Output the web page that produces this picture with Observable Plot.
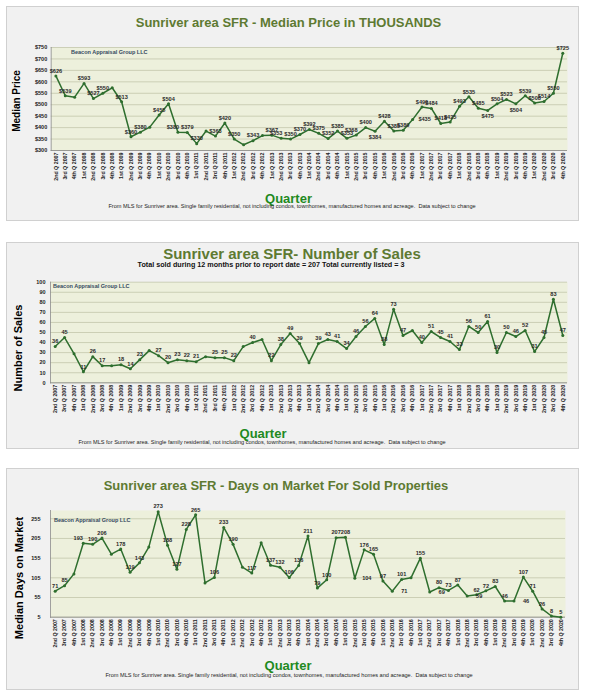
<!DOCTYPE html>
<html><head><meta charset="utf-8">
<script src="https://cdn.jsdelivr.net/npm/d3@7"></script>
<script src="https://cdn.jsdelivr.net/npm/@observablehq/plot@0.6"></script>
<style>
body{margin:0;background:#fff;font-family:"Liberation Sans",Arial,sans-serif;}
#root{position:relative;width:589px;height:700px;}
.panel{position:absolute;left:6px;width:573px;background:#f1f1f1;outline:1px solid #d0d0d0;outline-offset:-1px;}
.panel svg{position:absolute;left:0;top:0;}
.t{position:absolute;transform:translate(-50%,-50%);white-space:nowrap;line-height:1;}
.title{font-weight:bold;color:#5e7a32;}
.sub{font-weight:bold;color:#111;font-size:7.2px;}
.ylab{font-weight:bold;color:#000;transform:translate(-50%,-50%) rotate(-90deg);}
.quarter{font-weight:bold;color:#1f8a1f;font-size:13px;}
.foot{font-size:5.6px;color:#222;}
.beacon{position:absolute;font-weight:bold;font-size:5.5px;color:#34495e;white-space:nowrap;line-height:1;}
</style>
</head><body><div id="root"></div>
<script>
// ---------- data ----------
const quarters = [
 "2nd Q 2007","3rd Q 2007","4th Q 2007",
 "1st Q 2008","2nd Q 2008","3rd Q 2008","4th Q 2008",
 "1st Q 2009","2nd Q 2009","3rd Q 2009","4th Q 2009",
 "1st Q 2010","2nd Q 2010","3rd Q 2010","4th Q 2010",
 "1st Q 2011","2nd Q 2011","3rd Q 2011","4th Q 2011",
 "1st Q 2012","2nd Q 2012","3rd Q 2012","4th Q 2012",
 "1st Q 2013","2nd Q 2013","3rd Q 2013","4th Q 2013",
 "1st Q 2014","2nd Q 2014","3rd Q 2014","4th Q 2014",
 "1st Q 2015","2nd Q 2015","3rd Q 2015","4th Q 2015",
 "1st Q 2016","2nd Q 2016","3rd Q 2016","4th Q 2016",
 "1st Q 2017","2nd Q 2017","3rd Q 2017","4th Q 2017",
 "1st Q 2018","2nd Q 2018","3rd Q 2018","4th Q 2018",
 "1st Q 2019","2nd Q 2019","3rd Q 2019","4th Q 2019",
 "1st Q 2020","2nd Q 2020","3rd Q 2020","4th Q 2020"
];
const medianPrice = [626,539,533, 593,527,550,574, 513,360,380,402, 455,504,380,379, 330,385,363,420,
 350,325,343,365, 367,353,350,370, 392,375,352,385, 353,368,400,384, 428,385,389,435,
 490,484,418,425, 493,535,485,475, 504,523,504,539, 508,514,550,725];
const numberOfSales = [36,45,29, 11,26,17,17, 18,14,23,32, 27,20,23,22, 21,26,25,25,
 22,36,40,43, 22,38,49,39, 20,39,43,41, 34,46,56,64, 38,73,47,52,
 40,51,45,41, 33,56,50,61, 30,50,46,52, 31,45,83,47];
const daysOnMarket = [71,85,115, 193,190,206,165, 178,119,143,183, 273,188,127,228, 265,92,106,233,
 190,132,117,194, 137,132,106,136, 211,79,100,207, 208,104,176,165, 97,71,101,105,
 155,69,80,73, 87,59,62,72, 83,46,46,107, 71,26,8,5];
const priceTicks = [300,350,400,450,500,550,600,650,700,750];
const salesTicks = [0,10,20,30,40,50,60,70,80,90,100];
const domTicks = [5,55,105,155,205,255];
// quarters without a value label in the reference
const priceUnlabeled = ["4th Q 2007","4th Q 2008","4th Q 2009","2nd Q 2011","2nd Q 2012","4th Q 2012"];
const salesUnlabeled = ["4th Q 2007","4th Q 2008","4th Q 2009","2nd Q 2011","2nd Q 2012","4th Q 2012","1st Q 2014","4th Q 2016"];
const domUnlabeled = ["4th Q 2007","4th Q 2008","4th Q 2009","2nd Q 2011","2nd Q 2012","4th Q 2012","4th Q 2016"];
// label placement groups (default: above the point)
const priceBelow = ["4th Q 2015","4th Q 2018","3rd Q 2019"];
const priceRight = ["4th Q 2016"];
const priceLeft = ["3rd Q 2010","2nd Q 2013","2nd Q 2015"];
const salesBelow = [];
const salesRight = [];
const salesLeft = [];
const domBelow = [];
const domRight = ["2nd Q 2015","2nd Q 2016","2nd Q 2017","2nd Q 2018","3rd Q 2019"];
const domLeft = ["1st Q 2008"];

const footText = "From MLS for Sunriver area. Single family residential, not including condos, townhomes, manufactured homes and acreage.\u00a0\u00a0Data subject to change";

const root = document.getElementById("root");
const FONT = "Liberation Sans, Arial, sans-serif";
const GREEN = "#2e6e2e";

function addText(panel, cls, text, x, y, extra) {
  const d = document.createElement("div");
  d.className = "t " + cls;
  d.textContent = text;
  d.style.left = x + "px"; d.style.top = y + "px";
  if (extra) Object.assign(d.style, extra);
  panel.appendChild(d);
}

function makePanel(cfg) {
  const panel = document.createElement("div");
  panel.className = "panel";
  panel.style.top = cfg.top + "px";
  panel.style.height = cfg.height + "px";
  root.appendChild(panel);
  const data = quarters.map((q, i) => ({q, v: cfg.values[i]}));
  const lab = data.filter(d => !cfg.unlabeled.includes(d.q));
  const special = [...cfg.below, ...cfg.right, ...cfg.left];
  const above = lab.filter(d => !special.includes(d.q));
  const below = lab.filter(d => cfg.below.includes(d.q));
  const right = lab.filter(d => cfg.right.includes(d.q));
  const left = lab.filter(d => cfg.left.includes(d.q));
  const tf = cfg.fmt;
  const txt = {x: "q", y: "v", text: d => tf(d.v), fontSize: 5.6, fontWeight: "bold", fill: "#2a2a2a"};
  const svg = Plot.plot({
    width: 573, height: cfg.height,
    marginLeft: cfg.ml, marginRight: cfg.mr, marginTop: cfg.mt, marginBottom: cfg.mb,
    style: {background: "transparent", fontFamily: FONT, overflow: "visible"},
    x: {type: "point", domain: quarters, padding: 0.5, round: false},
    y: {domain: cfg.domain},
    marks: [
      Plot.frame({fill: "#edf0dc", stroke: "none"}),
      Plot.gridY(cfg.ticks, {stroke: "#c3c6ab", strokeOpacity: 1, strokeWidth: 0.8}),
      Plot.ruleY([cfg.domain[0]], {stroke: "#8c8c8c", strokeWidth: 0.8}),
      Plot.frame({anchor: "left", stroke: "#8c8c8c", strokeWidth: 0.8}),
      Plot.axisY(cfg.ticks, {tickSize: 0, tickPadding: cfg.yPad, tickFormat: tf, fontSize: 5.5, fontWeight: "bold", fill: "#222", label: null}),
      Plot.axisX(quarters, {tickSize: 0, tickRotate: -90, tickPadding: 2, fontSize: 5.3, fontWeight: "bold", fill: "#222", label: null}),
      Plot.line(data, {x: "q", y: "v", stroke: GREEN, strokeWidth: 1.5}),
      Plot.dot(data, {x: "q", y: "v", r: 1.5, fill: GREEN}),
      Plot.text(above, {...txt, dy: -5}),
      Plot.text(below, {...txt, dy: 6}),
      Plot.text(right, {...txt, dx: 12, dy: 0}),
      Plot.text(left, {...txt, dx: -5, dy: -5})
    ]
  });
  panel.appendChild(svg);
  cfg.titles.forEach(t => addText(panel, t.cls, t.text, t.x, t.y, t.style));
  addText(panel, "ylab", cfg.ylabel, cfg.ylab[0], cfg.ylab[1], {fontSize: cfg.ylabSize + "px"});
  addText(panel, "quarter", "Quarter", cfg.quarter[0], cfg.quarter[1]);
  addText(panel, "foot", footText, cfg.foot[0], cfg.foot[1]);
  const b = document.createElement("div");
  b.className = "beacon"; b.textContent = "Beacon Appraisal Group LLC";
  b.style.left = cfg.beacon[0] + "px"; b.style.top = cfg.beacon[1] + "px";
  panel.appendChild(b);
}

makePanel({
  top: 6, height: 215, values: medianPrice, ticks: priceTicks, domain: [300, 750],
  fmt: d => "$" + d, unlabeled: priceUnlabeled, below: priceBelow, right: priceRight, left: priceLeft,
  ml: 44.7, mr: 12, mt: 41, mb: 71, yPad: 4,
  titles: [{cls: "title", text: "Sunriver area SFR - Median Price in THOUSANDS", x: 282.5, y: 15.5, style: {fontSize: "13px"}}],
  ylabel: "Median Price", ylab: [11, 95], ylabSize: 10,
  quarter: [282.5, 192], foot: [286, 201], beacon: [65, 43.5]
});
makePanel({
  top: 242, height: 207, values: numberOfSales, ticks: salesTicks, domain: [0, 100],
  fmt: d => String(d), unlabeled: salesUnlabeled, below: salesBelow, right: salesRight, left: salesLeft,
  ml: 44, mr: 12, mt: 39.7, mb: 66.7, yPad: 5,
  titles: [
    {cls: "title", text: "Sunriver area SFR- Number of Sales", x: 286, y: 11, style: {fontSize: "15px"}},
    {cls: "sub", text: "Total sold during 12 months prior to report date = 207 Total currently listed = 3", x: 265, y: 22.5}
  ],
  ylabel: "Number of Sales", ylab: [12, 105.5], ylabSize: 11,
  quarter: [257, 190.5], foot: [256, 201], beacon: [47, 41.5]
});
makePanel({
  top: 468, height: 222, values: daysOnMarket, ticks: domTicks, domain: [5, 276],
  fmt: d => String(d), unlabeled: domUnlabeled, below: domBelow, right: domRight, left: domLeft,
  ml: 44, mr: 14, mt: 42, mb: 73.3, yPad: 10,
  titles: [{cls: "title", text: "Sunriver area SFR - Days on Market For Sold Properties", x: 270, y: 17, style: {fontSize: "13px"}}],
  ylabel: "Median Days on Market", ylab: [12.7, 110], ylabSize: 11,
  quarter: [282, 197], foot: [283, 208], beacon: [48, 49.5]
});
</script>
</body></html>
